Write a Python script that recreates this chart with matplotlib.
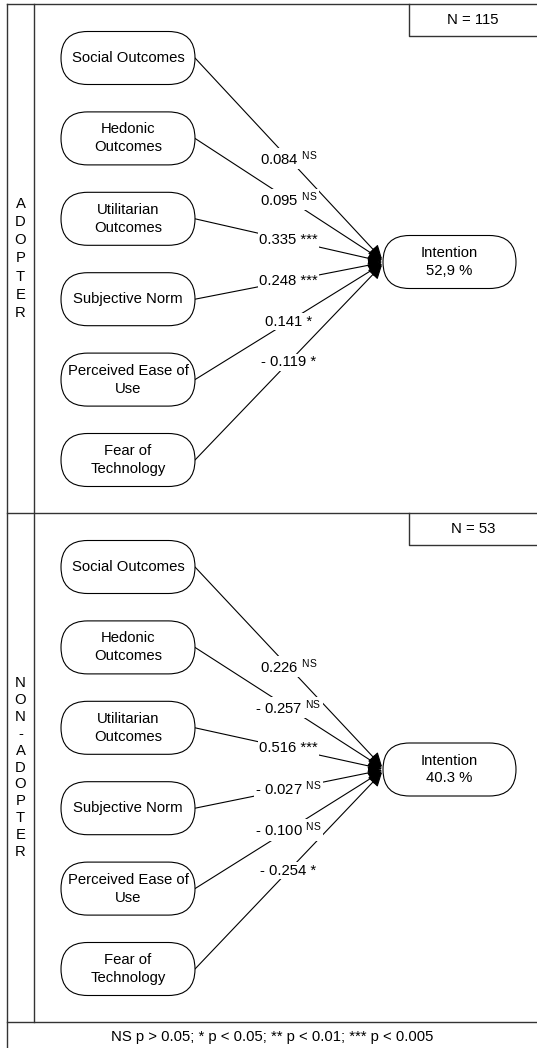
import matplotlib
matplotlib.use("Agg")
import matplotlib.pyplot as plt
from matplotlib.patches import FancyBboxPatch

plt.rcParams['font.family'] = ['Liberation Sans', 'DejaVu Sans']
plt.rcParams['mathtext.default'] = 'regular'

# 数据
predictors = ["Social Outcomes", "Hedonic\nOutcomes", "Utilitarian\nOutcomes",
              "Subjective Norm", "Perceived Ease of\nUse", "Fear of\nTechnology"]
groups = ["ADOPTER", "NON-ADOPTER"]
sample_n = [115, 53]
r2_labels = ["52,9 %", "40.3 %"]
adopter_coef = ["0.084", "0.095", "0.335", "0.248", "0.141", "- 0.119"]
adopter_sig = ["NS", "NS", "***", "***", "*", "*"]
nonadopter_coef = ["0.226", "- 0.257", "0.516", "- 0.027", "- 0.100", "- 0.254"]
nonadopter_sig = ["NS", "NS", "***", "NS", "NS", "*"]
legend_text = "NS p > 0.05; * p < 0.05; ** p < 0.01; *** p < 0.005"

coefs = [adopter_coef, nonadopter_coef]
sigs = [adopter_sig, nonadopter_sig]

# 布局 (像素坐标)
W, H = 537, 1048
FS = 10.7
LEFT, INNER, TOP = 7, 34, 4
SECTION_TOP = [4, 513]
SECTION_BOT = [513, 1022]
BOX_X, BOX_W, BOX_H = 61, 134, 53
INT_X, INT_W = 383, 133
FIRST_Y, STEP_Y = 58, 80.4
INT_Y = 262
LETTER_STEP = [18.3, 16.9]
BORDER = '#333333'

fig = plt.figure(figsize=(W / 100, H / 100), dpi=100)
ax = fig.add_axes([0, 0, 1, 1])
ax.set_xlim(0, W)
ax.set_ylim(H, 0)
ax.axis('off')


def stadium(cx, cy, w, h, text):
    p = FancyBboxPatch((cx - w / 2, cy - h / 2), w, h,
                       boxstyle=f"round,pad=0,rounding_size={h / 2}",
                       fc='white', ec='black', lw=0.8, zorder=3)
    ax.add_patch(p)
    ax.text(cx, cy, text, ha='center', va='center', fontsize=FS,
            linespacing=1.35, zorder=4)


# 外框
ax.plot([LEFT, W + 2], [TOP, TOP], color=BORDER, lw=1.0)
ax.plot([LEFT, LEFT], [TOP, H + 2], color=BORDER, lw=1.0)
ax.plot([INNER, INNER], [TOP, SECTION_BOT[1]], color=BORDER, lw=1.0)
for yb in SECTION_BOT:
    ax.plot([LEFT, W + 2], [yb, yb], color=BORDER, lw=1.0)

for g in range(2):
    off = SECTION_TOP[g] - SECTION_TOP[0]
    top = SECTION_TOP[g]
    bot = SECTION_BOT[g]

    # N 框
    ax.plot([409, 409, W + 2], [top, top + 32, top + 32], color=BORDER, lw=1.0)
    ax.text((409 + W) / 2, top + 16, f"N = {sample_n[g]}", ha='center',
            va='center', fontsize=FS)

    # 竖排组名
    letters = list(groups[g])
    mid = (top + bot) / 2
    step = LETTER_STEP[g]
    for k, ch in enumerate(letters):
        ax.text((LEFT + INNER) / 2, mid + (k - (len(letters) - 1) / 2) * step,
                ch, ha='center', va='center', fontsize=FS)

    # 因变量
    iy = INT_Y + off - (g * 1.5)
    stadium(INT_X + INT_W / 2, iy, INT_W, BOX_H, "Intention\n" + r2_labels[g])

    for i, name in enumerate(predictors):
        cy = FIRST_Y + i * STEP_Y + off
        stadium(BOX_X + BOX_W / 2, cy, BOX_W, BOX_H, name)
        x0, y0 = BOX_X + BOX_W, cy
        x1, y1 = INT_X - 1, iy + (i - 2.5) * 1.2
        ax.annotate('', xy=(x1, y1), xytext=(x0, y0),
                    arrowprops=dict(arrowstyle='-|>,head_length=0.6,head_width=0.3',
                                    color='black', lw=0.8,
                                    mutation_scale=14, shrinkA=0, shrinkB=0),
                    zorder=2)
        sig = sigs[g][i]
        if sig == "NS":
            label = coefs[g][i] + r" $^{NS}$"
        else:
            label = coefs[g][i] + " " + sig
        ax.text((x0 + x1) / 2, (y0 + y1) / 2, label, ha='center', va='center',
                fontsize=FS, zorder=5,
                bbox=dict(fc='white', ec='none', pad=1.0))

ax.text((LEFT + W) / 2, (SECTION_BOT[1] + H) / 2 + 2, legend_text,
        ha='center', va='center', fontsize=FS)

fig.savefig("out.png", dpi=100)
